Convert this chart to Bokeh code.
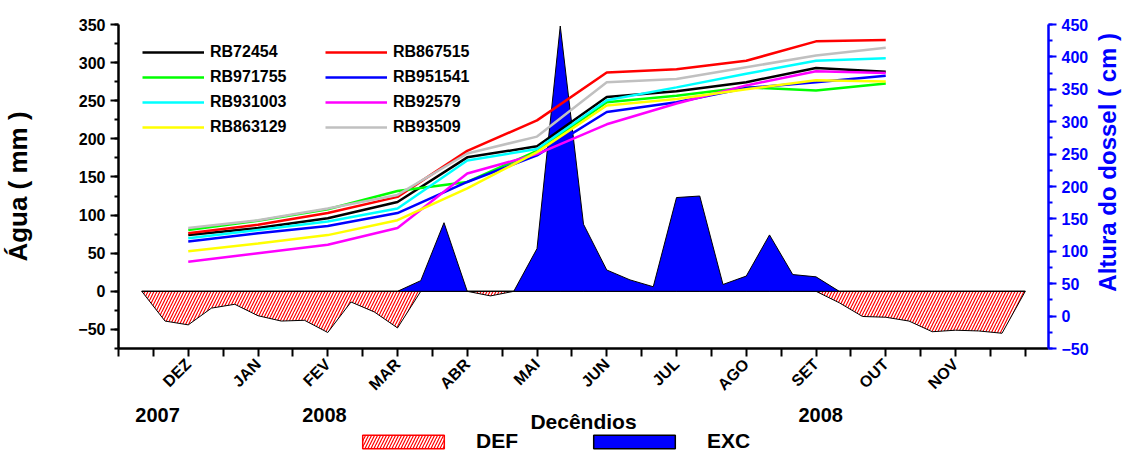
import math
from bokeh.plotting import figure
from bokeh.layouts import row, column
from bokeh.models import (Range1d, LinearAxis, FixedTicker, SingleIntervalTicker,
                          Legend, LegendItem, Label)
from bokeh.embed import file_html
from bokeh.resources import INLINE

# ---- x axis: decêndios (10-day periods), month labels every 3 decêndios ----
month_labels = ["DEZ", "JAN", "FEV", "MAR", "ABR", "MAI", "JUN",
                "JUL", "AGO", "SET", "OUT", "NOV"]
month_pos = [3, 6, 9, 12, 15, 18, 21, 24, 27, 30, 33, 36]
year_labels = ["2007", "2008", "2008"]
year_pos = [1.68, 8.86, 30.2]

# ---- water balance per decêndio (mm) ----
decendio = list(range(1, 40))
deficit = [0, -39, -44, -22, -17, -32, -39, -38, -54, -14, -27, -48, 0,
           0, 0, -6, 0, 0, 0, 0, 0, 0, 0, 0, 0, 0, 0, 0, 0, 0,
           -15, -33, -34, -39, -53, -51, -52, -55, 0]
excess = [0, 0, 0, 0, 0, 0, 0, 0, 0, 0, 0, 0, 14, 90, 0, 0, 0, 56, 348,
          88, 28, 15, 6, 123, 125, 9, 20, 74, 22, 19, 0,
          0, 0, 0, 0, 0, 0, 0, 0]

# ---- canopy height (cm), monthly surveys ----
survey = [3, 6, 9, 12, 15, 18, 21, 24, 27, 30, 33]
rb72454 = [125, 136, 151, 176, 245, 262, 338, 347, 361, 383, 377]
rb867515 = [128, 141, 159, 184, 255, 302, 376, 381, 394, 424, 426]
rb971755 = [133, 147, 165, 193, 207, 255, 330, 340, 353, 348, 359]
rb951541 = [115, 128, 139, 159, 207, 248, 315, 330, 352, 361, 371]
rb931003 = [120, 133, 146, 166, 240, 258, 333, 353, 374, 394, 398]
rb92579 = [84, 97, 110, 136, 220, 250, 296, 328, 356, 378, 375]
rb863129 = [100, 112, 125, 148, 197, 253, 325, 335, 350, 364, 362]
rb93509 = [136, 148, 166, 187, 251, 277, 361, 366, 384, 402, 414]

varieties = [
    ("RB72454", rb72454, "black"),
    ("RB867515", rb867515, "#FF0000"),
    ("RB971755", rb971755, "#00FF00"),
    ("RB951541", rb951541, "#0000FF"),
    ("RB931003", rb931003, "#00FFFF"),
    ("RB92579", rb92579, "#FF00FF"),
    ("RB863129", rb863129, "#FFFF00"),
    ("RB93509", rb93509, "#C0C0C0"),
]

FONT = "Liberation Sans"
BLUE = "#0000FF"
X0, X1 = 0, 40
FRAME_L, FRAME_R = 118, 1048
TOTAL_W, MAIN_H, BOTTOM_H = 1122, 402, 52
PPU = (FRAME_R - FRAME_L) / (X1 - X0)

DEF_STYLE = dict(fill_color="white", hatch_pattern="/", hatch_color="#FF0000",
                 hatch_scale=6, hatch_weight=1.2)
EXC_STYLE = dict(fill_color=BLUE)

# ================= main chart =================
p = figure(width=FRAME_R + 44, height=MAIN_H, output_backend="svg",
           toolbar_location=None,
           x_range=Range1d(X0, X1), y_range=Range1d(-75, 350),
           min_border_left=FRAME_L, min_border_right=44, min_border_top=24,
           min_border_bottom=52)
p.outline_line_color = None
p.xgrid.visible = False
p.ygrid.visible = False
p.extra_y_ranges = {"h": Range1d(-50, 450)}

# DEF / EXC areas as closed polygons down to zero
poly_x = decendio + decendio[::-1]
def_poly = deficit + [0] * len(decendio)
exc_poly = excess + [0] * len(decendio)
p.patch(poly_x, def_poly, line_color="black", line_width=1, **DEF_STYLE)
p.patch(poly_x, exc_poly, line_color="black", line_width=1, **EXC_STYLE)

# canopy height lines
line_items = []
for name, vals, col in varieties:
    r = p.line(survey, vals, line_color=col, line_width=2.5, y_range_name="h")
    line_items.append(LegendItem(label=name, renderers=[r]))

xa = p.xaxis[0]
xa.ticker = FixedTicker(ticks=[i * 1.5 for i in range(27)], minor_ticks=[])
overrides = {i * 1.5: "" for i in range(27)}
for pos, lab in zip(month_pos, month_labels):
    overrides[pos] = lab
xa.major_label_overrides = overrides
xa.major_label_orientation = math.pi / 4

ya = p.yaxis[0]
ya.ticker = SingleIntervalTicker(interval=50, num_minor_ticks=2)
ya.axis_label = "Água ( mm )"
ya.axis_label_text_font = FONT
ya.axis_label_text_font_style = "bold"
ya.axis_label_text_font_size = "26px"
ya.axis_label_text_color = "black"
ya.axis_label_standoff = 42

ra = LinearAxis(y_range_name="h",
                ticker=SingleIntervalTicker(interval=50, num_minor_ticks=2))
p.add_layout(ra, "right")

for ax, col in ((xa, "black"), (ya, "black"), (ra, BLUE)):
    ax.axis_line_width = 2.5
    ax.axis_line_color = col
    ax.major_tick_line_color = col
    ax.minor_tick_line_color = col
    ax.major_tick_line_width = 2
    ax.minor_tick_line_width = 2
    ax.major_tick_out = 8
    ax.major_tick_in = 0
    ax.minor_tick_out = 4
    ax.minor_tick_in = 0
    ax.major_label_text_font = FONT
    ax.major_label_text_font_style = "bold"
    ax.major_label_text_font_size = "16px"
    ax.major_label_text_color = col

leg = Legend(items=line_items, location=(24, 211), orientation="horizontal", ncols=2,
             glyph_width=62, glyph_height=20, label_height=20, label_width=110,
             label_standoff=6, spacing=5, padding=0, margin=0,
             border_line_color=None, background_fill_alpha=0,
             label_text_font=FONT, label_text_font_style="bold",
             label_text_font_size="16px", label_text_color="black")
p.add_layout(leg)

# ================= right strip: canopy height axis title =================
RW = TOTAL_W - (FRAME_R + 44)
pr = figure(width=RW, height=MAIN_H, output_backend="svg",
            toolbar_location=None, x_axis_type=None, y_axis_type=None,
            min_border=0, x_range=Range1d(0, RW), y_range=Range1d(0, MAIN_H))
pr.outline_line_color = None
pr.grid.visible = False
pr.add_layout(Label(x=15, y=MAIN_H - 171,
                    text="Altura do dossel ( cm )", angle=math.pi / 2,
                    text_align="center", text_baseline="middle",
                    text_font=FONT, text_font_style="bold",
                    text_font_size="24px", text_color=BLUE))

# ================= bottom strip: years, axis title, DEF/EXC key =================
pb = figure(width=TOTAL_W, height=BOTTOM_H, output_backend="svg",
            toolbar_location=None, x_axis_type=None, y_axis_type=None,
            min_border=0,
            x_range=Range1d(X0 - FRAME_L / PPU, X0 + (TOTAL_W - FRAME_L) / PPU),
            y_range=Range1d(0, BOTTOM_H))
pb.outline_line_color = None
pb.grid.visible = False

for txt, xpos in zip(year_labels, year_pos):
    pb.add_layout(Label(x=xpos, y=MAIN_H + BOTTOM_H - 414, text=txt,
                        text_align="center", text_baseline="middle",
                        text_font=FONT, text_font_style="bold",
                        text_font_size="20px", text_color="black"))

pb.add_layout(Label(x=(X0 + X1) / 2, y=MAIN_H + BOTTOM_H - 421, text="Decêndios",
                    text_align="center", text_baseline="middle",
                    text_font=FONT, text_font_style="bold",
                    text_font_size="21px", text_color="black"))

# key swatches: hidden copies of the area glyphs, shown only in the key
k_def = pb.patch(poly_x, def_poly, line_color="#FF0000", line_width=1.5,
                 visible=False, **DEF_STYLE)
k_exc = pb.patch(poly_x, exc_poly, line_color="black", line_width=1.5,
                 visible=False, **EXC_STYLE)
leg2 = Legend(items=[LegendItem(label="DEF", renderers=[k_def]),
                     LegendItem(label="EXC", renderers=[k_exc])],
              location=(352, 1), orientation="horizontal",
              glyph_width=102, glyph_height=17, label_height=20, label_width=90,
              label_standoff=22, spacing=17, padding=0, margin=0,
              border_line_color=None, background_fill_alpha=0,
              inactive_fill_alpha=0,
              label_text_font=FONT, label_text_font_style="bold",
              label_text_font_size="21px", label_text_color="black")
pb.add_layout(leg2)

layout = column(row(p, pr, spacing=0), pb, spacing=0)
open("out.html", "w").write(file_html(layout, INLINE))
